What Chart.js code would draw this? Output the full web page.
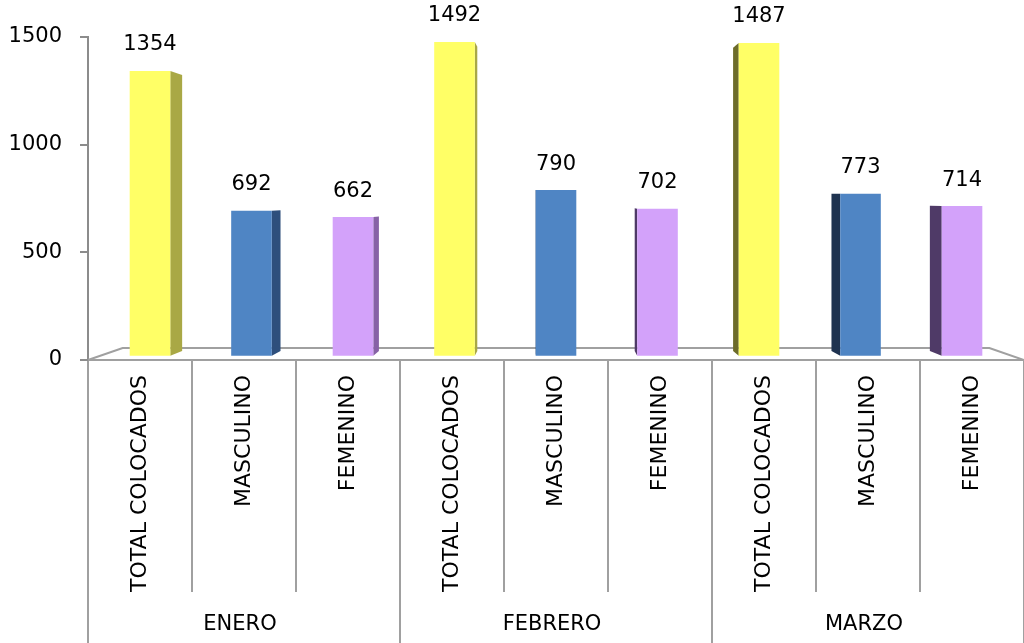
<!DOCTYPE html>
<html>
<head>
<meta charset="utf-8">
<script src="https://cdn.jsdelivr.net/npm/chart.js@4"></script>
<style>
  html, body { margin: 0; padding: 0; background: #fff; }
  #wrap { width: 1024px; height: 643px; position: relative; }
</style>
</head>
<body>
<div id="wrap"><canvas id="chart"></canvas></div>
<script>
// --- data ---
const months = ['ENERO', 'FEBRERO', 'MARZO'];
const seriesNames = ['TOTAL COLOCADOS', 'MASCULINO', 'FEMENINO'];
const totalColocados = [1354, 1492, 1487];
const masculino = [692, 790, 773];
const femenino = [662, 702, 714];
const yTicks = [0, 500, 1000, 1500];

const faceColors = ['#ffff66', '#4f85c4', '#d3a2fa'];
const rightSide = ['#a9a845', '#2e4f7c', '#8762a6'];
const leftSide = ['#6d6c2a', '#1f3350', '#4f3a67'];

// flatten into 9 bars: month x series
const labels = [], values = [], colorIdx = [];
months.forEach((m, i) => {
  [totalColocados, masculino, femenino].forEach((arr, s) => {
    labels.push(seriesNames[s]);
    values.push(arr[i]);
    colorIdx.push(s);
  });
});

const FONT = "'DejaVu Sans', Verdana, sans-serif";
const K_FRONT = 0.02, K_BACK = 0.05, K_FLOOR = 0.074;

// --- pseudo 3D: shift bars toward a vanishing point, draw side faces + floor ---
const depth3d = {
  id: 'depth3d',
  afterDatasetsUpdate(chart) {
    const ca = chart.chartArea;
    const vx = (ca.left + ca.right) / 2, vy = (ca.top + ca.bottom) / 2;
    chart.getDatasetMeta(0).data.forEach(bar => {
      bar.$orig = { x: bar.x, y: bar.y, base: bar.base, width: bar.width };
      bar.x = bar.x + (vx - bar.x) * 0.024;
      bar.y = bar.y + (vy - bar.y) * K_FRONT;
      bar.base = bar.base + (vy - bar.base) * K_FRONT;
      bar.width = bar.width * (1 - 0.024);
    });
  },
  beforeDatasetsDraw(chart) {
    const {ctx, chartArea: ca} = chart;
    const vx = (ca.left + ca.right) / 2, vy = (ca.top + ca.bottom) / 2;
    const P = (x, y, k, kx) => [x + (vx - x) * (kx || k), y + (vy - y) * k];

    // floor outline
    ctx.save();
    ctx.strokeStyle = '#a0a0a0';
    ctx.lineWidth = 2;
    const bl = P(ca.left, ca.bottom, K_FLOOR), br = P(ca.right, ca.bottom, K_FLOOR);
    ctx.beginPath();
    ctx.moveTo(ca.left, ca.bottom); ctx.lineTo(bl[0], bl[1]);
    ctx.lineTo(br[0], br[1]); ctx.lineTo(ca.right, ca.bottom);
    ctx.stroke();

    // side faces
    chart.getDatasetMeta(0).data.forEach((bar, i) => {
      const o = bar.$orig;
      if (!o) return;
      const right = o.x < vx;
      const ex = right ? o.x + o.width / 2 : o.x - o.width / 2;
      const ft = P(ex, o.y, K_FRONT, 0.024), fb = P(ex, o.base, K_FRONT, 0.024);
      const bt = P(ex, o.y, K_BACK, 0.054), bb = P(ex, o.base, K_BACK, 0.054);
      ctx.fillStyle = right ? rightSide[colorIdx[i]] : leftSide[colorIdx[i]];
      ctx.beginPath();
      ctx.moveTo(ft[0], ft[1]); ctx.lineTo(bt[0], bt[1]);
      ctx.lineTo(bb[0], bb[1]); ctx.lineTo(fb[0], fb[1]);
      ctx.closePath();
      ctx.fill();
    });
    ctx.restore();
  },
  afterDraw(chart) {
    const {ctx} = chart;
    const xs = chart.scales.x;
    // value labels
    ctx.save();
    ctx.fillStyle = '#000';
    ctx.font = '21px ' + FONT;
    ctx.textAlign = 'center';
    ctx.textBaseline = 'middle';
    chart.getDatasetMeta(0).data.forEach((bar, i) => {
      ctx.fillText(String(values[i]), bar.x, bar.y - 26);
    });

    // category dividers and month labels
    const step = (xs.right - xs.left) / labels.length;
    ctx.strokeStyle = '#a0a0a0';
    ctx.lineWidth = 2;
    for (let i = 0; i <= labels.length; i++) {
      const x = Math.round(xs.left + i * step);
      const endY = (i % seriesNames.length === 0) ? xs.bottom : xs.bottom - 51;
      ctx.beginPath();
      ctx.moveTo(x, xs.top + 1);
      ctx.lineTo(x, endY);
      ctx.stroke();
    }
    ctx.font = '21px ' + FONT;
    months.forEach((m, g) => {
      const cx = xs.left + (g * 3 + 1.5) * step - 4;
      ctx.fillText(m, cx, xs.bottom - 18);
    });
    ctx.restore();
  }
};

new Chart(document.getElementById('chart'), {
  type: 'bar',
  data: {
    labels: labels,
    datasets: [{
      data: values,
      backgroundColor: colorIdx.map(c => faceColors[c]),
      borderWidth: 0,
      barPercentage: 0.4,
      categoryPercentage: 1
    }]
  },
  options: {
    responsive: true,
    maintainAspectRatio: false,
    animation: false,
    events: [],
    layout: { padding: { top: 37, right: 0, left: 0, bottom: 0 } },
    plugins: { legend: { display: false }, tooltip: { enabled: false } },
    scales: {
      x: {
        grid: { display: false, drawTicks: false },
        border: { display: true, color: '#a0a0a0', width: 2 },
        ticks: {
          autoSkip: false, minRotation: 90, maxRotation: 90, padding: 15,
          color: '#000', font: { family: FONT, size: 22 }
        },
        afterFit(scale) { scale.height = 283; }
      },
      y: {
        min: 0, max: 1500,
        afterBuildTicks(scale) { scale.ticks = yTicks.map(v => ({ value: v })); },
        grid: { drawOnChartArea: false, tickLength: 8, color: '#8c8c8c', lineWidth: 2 },
        border: { display: true, color: '#8c8c8c', width: 2 },
        ticks: {
          padding: 18, color: '#000', font: { family: FONT, size: 21 },
          callback: v => String(v)
        },
        afterFit(scale) { scale.width = 88; }
      }
    }
  },
  plugins: [depth3d]
});
</script>
</body>
</html>
